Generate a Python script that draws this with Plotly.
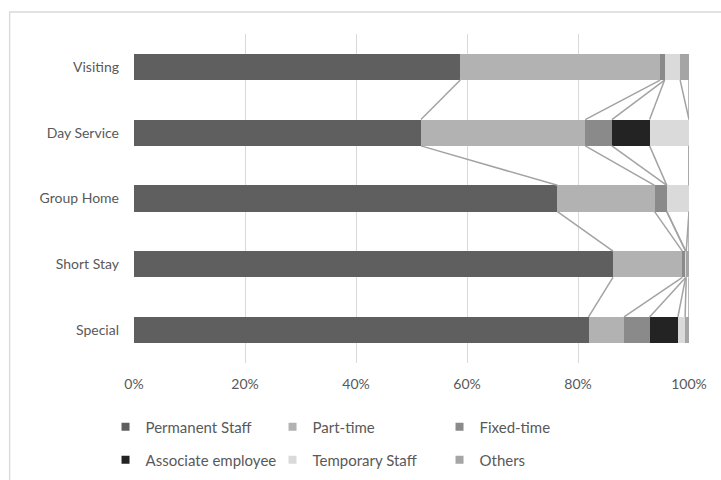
import plotly.graph_objects as go

categories = ["Visiting", "Day Service", "Group Home", "Short Stay", "Special"]
series_names = ["Permanent Staff", "Part-time", "Fixed-time",
                "Associate employee", "Temporary Staff", "Others"]
permanent = [58.8, 51.7, 76.3, 86.3, 81.9]
part_time = [36.0, 29.6, 17.5, 12.5, 6.4]
fixed_time = [0.8, 4.8, 2.2, 0.6, 4.6]
associate = [0.0, 6.8, 0.0, 0.0, 5.1]
temporary = [2.8, 7.1, 4.0, 0.1, 1.3]
others = [1.6, 0.0, 0.0, 0.5, 0.7]
x_ticks = [0, 20, 40, 60, 80, 100]
x_ticklabels = ["0%", "20%", "40%", "60%", "80%", "100%"]

series_values = [permanent, part_time, fixed_time, associate, temporary, others]
colors = ["#5f5f5f", "#b2b2b2", "#8a8a8a", "#232323", "#dadada", "#a5a5a5"]

W, H = 721, 480
L, R, T, B = 133.5, 689, 34, 363
FONT = "Lato"
TXT = "#595959"
BAR_W = 0.4

n = len(categories)
ypos = [n - 1 - i for i in range(n)]

fig = go.Figure()

# series lines (connect segment ends between adjacent bars)
cum = [0.0] * n
cums = []
for vals in series_values:
    cum = [c + v for c, v in zip(cum, vals)]
    cums.append(cum[:])
for c in cums:
    xs, ys = [], []
    for i in range(n - 1):
        xs += [c[i], c[i + 1], None]
        ys += [ypos[i] - BAR_W / 2, ypos[i + 1] + BAR_W / 2, None]
    fig.add_trace(go.Scatter(x=xs, y=ys, mode="lines",
                             line=dict(color="#a3a3a3", width=1.5),
                             showlegend=False, hoverinfo="skip"))

for k, (name, vals, col) in enumerate(zip(series_names, series_values, colors)):
    fig.add_trace(go.Bar(
        y=ypos, x=vals, name=name, orientation="h", width=BAR_W,
        marker=dict(color=col, line=dict(width=0)),
        showlegend=False, legendgroup=name,
    ))
    # legend entry with a small square key
    fig.add_trace(go.Scatter(
        x=[None], y=[None], mode="markers", name=name, legendgroup=name,
        marker=dict(symbol="square", size=8, color=col),
        legend="legend" if k < 3 else "legend2",
    ))

pw, ph = R - L, B - T
def px_x(p):
    return (p - L) / pw
def px_y(p):
    return (B - p) / ph

fig.add_shape(type="rect", xref="paper", yref="paper",
              x0=px_x(9), x1=px_x(760), y0=px_y(540), y1=px_y(12),
              line=dict(color="#d9d9d9", width=1.3), fillcolor="rgba(0,0,0,0)",
              layer="below")

leg_common = dict(orientation="h", xref="paper", yref="paper",
                  xanchor="left", yanchor="middle",
                  entrywidth=122, entrywidthmode="pixels",
                  font=dict(family=FONT, size=15, color=TXT),
                  bgcolor="rgba(0,0,0,0)", borderwidth=0,
                  itemwidth=30, traceorder="normal")

fig.update_layout(
    width=W, height=H,
    margin=dict(l=L, r=W - R, t=T, b=H - B, autoexpand=False),
    paper_bgcolor="white", plot_bgcolor="white",
    barmode="stack",
    font=dict(family=FONT, size=14, color=TXT),
    xaxis=dict(range=[0, 100], tickvals=x_ticks, ticktext=x_ticklabels,
               showgrid=True, gridcolor="#d9d9d9", gridwidth=1,
               zeroline=False, showline=False, ticks="",
               ticklabelstandoff=11,
               tickfont=dict(family=FONT, size=14, color=TXT)),
    yaxis=dict(range=[-0.5, n - 0.5], tickvals=ypos, ticktext=categories,
               showgrid=False, zeroline=False, showline=False, ticks="",
               ticklabelstandoff=14,
               tickfont=dict(family=FONT, size=14, color=TXT)),
    legend=dict(x=px_x(105), y=px_y(427), **leg_common),
    legend2=dict(x=px_x(105), y=px_y(460), **leg_common),
    showlegend=True,
)

fig.write_html("out.html")
